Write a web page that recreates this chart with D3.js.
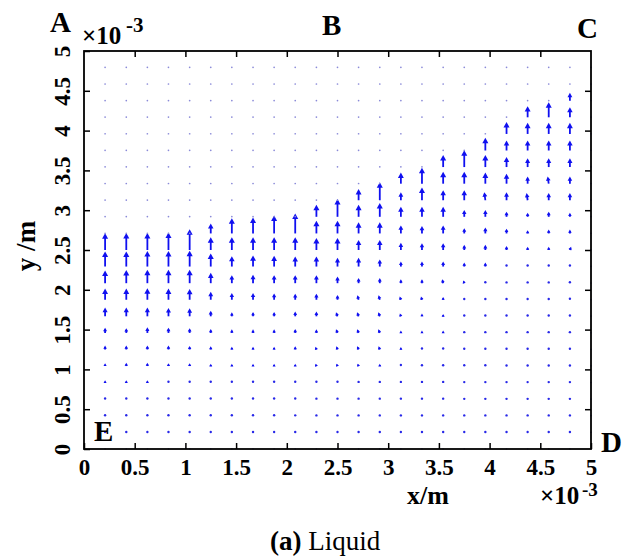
<!DOCTYPE html>
<html><head><meta charset="utf-8">
<script src="https://cdn.jsdelivr.net/npm/d3@7"></script>
<style>body{margin:0;background:#fff}svg{display:block}</style>
</head><body>
<svg id="c" width="630" height="560"></svg>
<script>
// grid nodes (×1e-3 m)
const xNodes = [0.208,0.417,0.625,0.833,1.042,1.25,1.458,1.667,1.875,2.083,2.292,2.5,2.708,2.917,3.125,3.333,3.542,3.75,3.958,4.167,4.375,4.583,4.792,5.0];
const yNodes = [0,0.208,0.417,0.625,0.833,1.042,1.25,1.458,1.667,1.875,2.083,2.292,2.5,2.708,2.917,3.125,3.333,3.542,3.75,3.958,4.167,4.375,4.583,4.792];
// vertical velocity per column (bottom row first), arbitrary units
const vCols = [
 [.05,.1,.15,.2,.3,.35,.5,.65,1.1,1.4,1.6,1.9,2.1,.05,.05,.05,.05,.05,.05,.05,.05,.05,.05,.05],
 [.05,.1,.15,.2,.3,.4,.5,.6,1.1,1.4,1.65,1.9,2.15,.05,.05,.05,.05,.05,.05,.05,.05,.05,.05,.05],
 [.05,.1,.15,.2,.3,.4,.5,.7,1.1,1.45,1.7,1.95,2.15,.05,.05,.05,.05,.05,.05,.05,.05,.05,.05,.05],
 [.05,.1,.15,.2,.25,.35,.5,.65,1.05,1.4,1.7,1.95,2.2,.05,.05,.05,.05,.05,.05,.05,.05,.05,.05,.05],
 [.05,.1,.15,.2,.25,.35,.45,.6,1.0,1.35,1.7,2.0,2.6,.05,.05,.05,.05,.05,.05,.05,.05,.05,.05,.05],
 [.05,.1,.15,.2,.25,.3,.4,.5,.7,1.0,1.3,1.65,1.6,1.25,.05,.05,.05,.05,.05,.05,.05,.05,.05,.05],
 [.05,.1,.15,.2,.25,.3,.35,.45,.5,.85,1.0,1.3,1.6,1.9,.05,.05,.05,.05,.05,.05,.05,.05,.05,.05],
 [.05,.1,.15,.2,.25,.3,.35,.45,.55,.85,1.05,1.4,1.6,2.0,.05,.05,.05,.05,.05,.05,.05,.05,.05,.05],
 [.05,.1,.15,.2,.25,.3,.35,.45,.55,.8,1.0,1.35,1.6,2.25,.05,.05,.05,.05,.05,.05,.05,.05,.05,.05],
 [.05,.1,.12,.2,.25,.3,.4,.5,.6,.75,1.0,1.25,1.6,2.5,.05,.05,.05,.05,.05,.05,.05,.05,.05,.05],
 [.05,.1,.1,.15,.25,.3,.35,.45,.6,.75,1.0,1.25,1.5,1.6,1.5,.05,.05,.05,.05,.05,.05,.05,.05,.05],
 [.05,.1,.1,.15,.25,.3,.4,.45,.5,.6,.85,1.1,1.5,1.6,2.25,.05,.05,.05,.05,.05,.05,.05,.05,.05],
 [.05,.1,.1,.15,.2,.3,.4,.45,.5,.55,.65,1.1,1.25,1.4,1.5,1.4,.05,.05,.05,.05,.05,.05,.05,.05],
 [.05,.1,.1,.15,.2,.3,.4,.45,.5,.55,.65,.9,1.25,1.4,1.75,2.25,.05,.05,.05,.05,.05,.05,.05,.05],
 [.05,.1,.1,.15,.2,.25,.3,.3,.35,.4,.5,.65,.9,1.0,1.25,1.0,1.4,.05,.05,.05,.05,.05,.05,.05],
 [.05,.1,.1,.15,.2,.2,.25,.3,.35,.4,.5,.65,.85,.95,1.25,1.6,2.0,.05,.05,.05,.05,.05,.05,.05],
 [.05,.1,.1,.15,.2,.2,.25,.3,.3,.35,.5,.65,.85,1.0,1.25,1.25,1.5,1.5,.05,.05,.05,.05,.05,.05],
 [.05,.1,.1,.1,.15,.2,.2,.2,.2,.2,.35,.5,.65,.65,.85,1.25,1.5,2.1,.05,.05,.05,.05,.05,.05],
 [.05,.1,.1,.1,.15,.2,.2,.2,.2,.2,.25,.5,.65,.75,.85,1.0,1.4,1.5,1.6,.05,.05,.05,.05,.05],
 [.05,.1,.1,.1,.15,.15,.2,.2,.2,.2,.2,.25,.5,.6,.65,1.0,1.25,1.25,1.25,1.5,.05,.05,.05,.05],
 [.05,.1,.1,.1,.15,.15,.2,.2,.2,.2,.2,.25,.4,.4,.5,.9,.9,1.1,1.25,1.4,1.4,.05,.05,.05],
 [.05,.1,.1,.1,.15,.15,.2,.2,.2,.2,.2,.25,.4,.5,.65,.9,.9,1.1,1.25,1.4,1.9,.05,.05,.05],
 [.05,.1,.1,.1,.15,.15,.2,.2,.2,.25,.25,.25,.4,.5,.5,.9,.9,1.1,1.25,1.4,1.25,1.0,.05,.05],
 [.05,.05,.05,.05,.05,.05,.05,.05,.05,.05,.05,.05,.05,.05,.05,.05,.05,.05,.05,.05,.05,.05,.05,.05]
];
// horizontal velocity where non-zero: [column index, row index, u]
const tilts = [[10,5,-.1],[10,6,-.1],[11,5,-.12],[11,6,-.12],[11,7,-.15],[11,8,-.15],
 [12,5,-.12],[12,6,-.15],[12,7,-.15],[12,8,-.15],[12,9,-.12],[13,6,-.12],[13,7,-.15],[13,8,-.15],[13,9,-.12],
 [14,8,-.1],[14,9,-.12],[15,9,-.1],[16,10,-.1],[17,10,-.1],[22,12,.12],[20,15,-.1],[18,15,-.1],[21,16,-.1]];
const xTicks = [0,0.5,1,1.5,2,2.5,3,3.5,4,4.5,5];
const yTicks = [0,0.5,1,1.5,2,2.5,3,3.5,4,4.5,5];
const quiverScale = 0.1;

const svg = d3.select('#c');
const FONT = "'Liberation Serif','Times New Roman',serif";
const x = d3.scaleLinear().domain([0,5]).range([84,591]);
const y = d3.scaleLinear().domain([0,5]).range([449,51]);
const tiltMap = new Map(tilts.map(t => [t[0]+','+t[1], t[2]]));

const blue = '#1010f0';
const gq = svg.append('g');
vCols.forEach((col, i) => col.forEach((v, j) => {
  const u = tiltMap.get(i+','+j) || 0;
  const x0 = x(xNodes[i]), y0 = y(yNodes[j]);
  const x1 = x(xNodes[i] + u*quiverScale), y1 = y(yNodes[j] + v*quiverScale);
  const dx = x1-x0, dy = y1-y0, L = Math.hypot(dx, dy);
  if (L < 2.2) {
    gq.append('circle').attr('cx', x0).attr('cy', y0 - L/2)
      .attr('r', v < 0.08 ? 0.85 : 1.2)
      .attr('fill', v < 0.08 ? '#8a8ad8' : '#2828e8');
    return;
  }
  const ux = dx/L, uy = dy/L, nx = -uy, ny = ux;
  const h = Math.min(5.5, 2 + 0.3*L), w = h*0.55;
  gq.append('line').attr('x1', x0).attr('y1', y0)
    .attr('x2', x1 - ux*h*0.5).attr('y2', y1 - uy*h*0.5)
    .attr('stroke', blue).attr('stroke-width', 1.8);
  gq.append('path')
    .attr('d', `M${x1},${y1}L${x1-ux*h+nx*w},${y1-uy*h+ny*w}L${x1-ux*h-nx*w},${y1-uy*h-ny*w}Z`)
    .attr('fill', blue);
}));

// frame
svg.append('rect').attr('x', 84).attr('y', 51).attr('width', 507).attr('height', 398)
  .attr('fill', 'none').attr('stroke', '#000').attr('stroke-width', 1.8);

function styleAxis(g){
  g.select('.domain').remove();
  g.selectAll('line').attr('stroke', '#000').attr('stroke-width', 1.5);
  g.attr('font-family', FONT).attr('font-size', 23).attr('font-weight', 'bold');
  g.selectAll('text').attr('fill', '#000');
}
const gx = svg.append('g').attr('transform', 'translate(0,449)')
  .call(d3.axisBottom(x).tickValues(xTicks).tickFormat(d => String(d)).tickSizeInner(-6).tickSizeOuter(0).tickPadding(10));
styleAxis(gx);
const gy = svg.append('g').attr('transform', 'translate(84,0)')
  .call(d3.axisLeft(y).tickValues(yTicks).tickFormat(d => String(d)).tickSizeInner(-6).tickSizeOuter(0));
styleAxis(gy);
gy.selectAll('text').attr('x', null).attr('dy', null).attr('text-anchor', 'middle')
  .attr('transform', 'translate(-14,0) rotate(-90)');
const gt = svg.append('g').attr('transform', 'translate(0,51)')
  .call(d3.axisTop(x).tickValues(xTicks.slice(1,-1)).tickFormat('').tickSizeInner(-6).tickSizeOuter(0));
styleAxis(gt);
const gr = svg.append('g').attr('transform', 'translate(591,0)')
  .call(d3.axisRight(y).tickValues(yTicks.slice(1,-1)).tickFormat('').tickSizeInner(-6).tickSizeOuter(0));
styleAxis(gr);

function txt(t, px, py, size, weight, opts={}) {
  const e = svg.append('text').attr('x', px).attr('y', py).text(t)
    .attr('font-family', FONT).attr('font-size', size).attr('font-weight', weight).attr('fill', '#000');
  if (opts.anchor) e.attr('text-anchor', opts.anchor);
  if (opts.rotate) e.attr('transform', `rotate(${opts.rotate},${px},${py})`);
  return e;
}
// exponent labels
txt('×10', 82, 44, 25, 'bold');
txt('-3', 126, 32, 21, 'bold');
txt('×10', 540, 504, 25, 'bold');
txt('-3', 582, 496, 19, 'bold');
// axis titles
txt('x/m', 428, 504, 26, 'bold', {anchor: 'middle'});
txt('y /m', 35, 246, 27, 'bold', {anchor: 'middle', rotate: -90});
// corner labels
txt('A', 50, 32, 29, 'bold');
txt('B', 322, 35, 29, 'bold');
txt('C', 577, 38, 29, 'bold');
txt('D', 601, 452, 29, 'bold');
txt('E', 94, 441, 29, 'bold');
// caption
const cap = svg.append('text').attr('x', 270).attr('y', 550)
  .attr('font-family', FONT).attr('font-size', 27).attr('fill', '#000');
cap.append('tspan').attr('font-weight', 'bold').text('(a)');
cap.append('tspan').text(' Liquid');
</script>
</body></html>
